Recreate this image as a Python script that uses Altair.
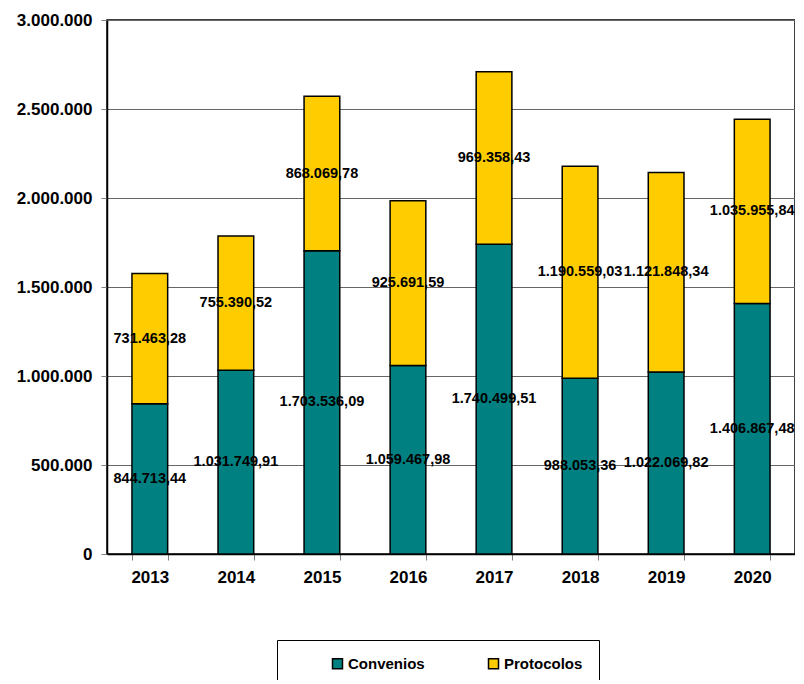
import altair as alt
import pandas as pd

years = ["2013", "2014", "2015", "2016", "2017", "2018", "2019", "2020"]
convenios = [844713.44, 1031749.91, 1703536.09, 1059467.98, 1740499.51, 988053.36, 1022069.82, 1406867.48]
protocolos = [731463.28, 755390.52, 868069.78, 925691.59, 969358.43, 1190559.03, 1121848.34, 1035955.84]
series = ["Convenios", "Protocolos"]
colors = ["#008080", "#FFCC00"]


def es(v):
    s = f"{v:,.2f}"
    return s.replace(",", "X").replace(".", ",").replace("X", ".")


rows = []
for i, y in enumerate(years):
    rows.append({"year": y, "serie": series[0], "value": convenios[i], "order": 0, "label": es(convenios[i])})
    rows.append({"year": y, "serie": series[1], "value": protocolos[i], "order": 1, "label": es(protocolos[i])})
df = pd.DataFrame(rows)

BOLD = "Liberation Sans"

x = alt.X(
    "year:N",
    title=None,
    sort=years,
    scale=alt.Scale(paddingInner=0.585, paddingOuter=0.29),
    axis=alt.Axis(
        labelAngle=0, labelFont=BOLD, labelFontWeight="bold", labelFontSize=17,
        labelColor="black", domainColor="black", domainWidth=1.5,
        tickBand="extent", tickColor="#808080", tickSize=6, labelPadding=9,
    ),
)

base = alt.Chart(df)

bars = base.mark_bar(stroke="black", strokeWidth=1.5).encode(
    x=x,
    y=alt.Y(
        "value:Q",
        stack="zero",
        title=None,
        scale=alt.Scale(domain=[0, 3000000], nice=False),
        axis=alt.Axis(
            values=[0, 500000, 1000000, 1500000, 2000000, 2500000, 3000000],
            labelExpr="replace(format(datum.value, ','), regexp(',', 'g'), '.')",
            labelFont=BOLD, labelFontWeight="bold", labelFontSize=17, labelColor="black",
            domainColor="black", domainWidth=1.5, tickColor="#808080", tickSize=6,
            labelPadding=9, gridColor="#666666", gridWidth=1,
        ),
    ),
    color=alt.Color(
        "serie:N",
        scale=alt.Scale(domain=series, range=colors),
        legend=alt.Legend(
            title=None, orient="none", legendX=170, legendY=620, direction="horizontal",
            strokeColor="black", padding=16, symbolType="square", symbolSize=100,
            symbolStrokeColor="black", symbolStrokeWidth=1.5, symbolOffset=37,
            columnPadding=24, labelOffset=3, labelFont=BOLD, labelFontWeight="bold",
            labelFontSize=15, labelColor="black", fillColor="white",
        ),
    ),
    order=alt.Order("order:Q"),
)

texts = base.transform_stack(
    stack="value", groupby=["year"], sort=[alt.SortField("order")], as_=["v0", "v1"]
).transform_calculate(mid="(datum.v0 + datum.v1) / 2").mark_text(
    font=BOLD, fontWeight="bold", fontSize=14.5, color="black"
).encode(
    x=alt.X("year:N", sort=years),
    y=alt.Y("mid:Q"),
    text="label:N",
)

chart = alt.layer(bars, texts).properties(
    width=688, height=534,
    padding={"left": 99, "top": 12, "right": 0, "bottom": 126},
    autosize=alt.AutoSizeParams(type="none"),
).configure_view(stroke="black", strokeWidth=1.5).configure_axis(gridColor="#666666")

chart.save("out.html", embed_options={"renderer": "svg", "actions": False})
